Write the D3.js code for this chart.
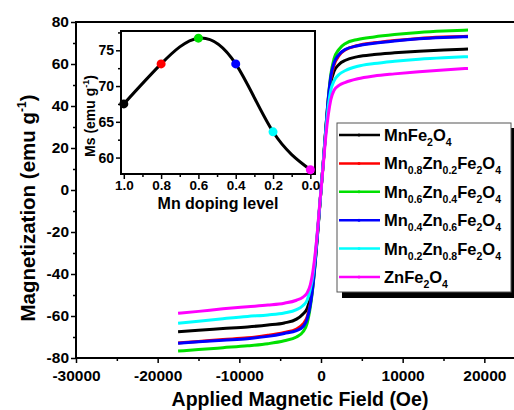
<!DOCTYPE html>
<html>
<head>
<meta charset="utf-8">
<script src="https://cdn.jsdelivr.net/npm/d3@7"></script>
<style>
  body { margin: 0; background: #fff; }
  svg { display: block; font-family: Arial, "Liberation Sans", sans-serif; font-weight: bold; }
</style>
</head>
<body>
<div id="chart"></div>
<script>
// applied field (Oe), shared by all loops
var fieldOe = [-17500, -15000, -12000, -9000, -6500, -4500, -3000, -2200, -1700, -1300, -1000, -700, -400, -100,
               0, 300, 600, 900, 1200, 1600, 2200, 3000, 4500, 6500, 9000, 12000, 15000, 18000];

// magnetization (emu/g)
var mMn10 = [-67.5, -66.8, -66.0, -65.2, -64.3, -63.3, -61.5, -59.0, -56.5, -51.0, -44.0, -33.0, -19.0, -5.0,
             0, 14, 29, 42, 51, 56.5, 59.8, 61.8, 63.5, 64.5, 65.3, 66.1, 66.7, 67.1];
var mMn08 = [-72.8, -72.1, -71.2, -70.4, -69.2, -67.8, -66.2, -63.8, -60.5, -54.0, -45.5, -33.5, -19.5, -5.0,
             0, 14, 29.5, 43.5, 53, 59.5, 64, 66.8, 68.8, 70.1, 71.2, 72.2, 72.8, 73.2];
var mMn06 = [-76.7, -76.0, -75.1, -74.2, -73.2, -71.8, -70.0, -67.5, -63.5, -55.5, -46.5, -34.5, -20.0, -5.0,
             0, 14.5, 30, 44, 55, 62.5, 67, 69.8, 71.7, 72.9, 74, 75, 75.7, 76.2];
var mMn04 = [-73.0, -72.3, -71.5, -70.8, -69.7, -68.3, -67.0, -65.0, -61.5, -54.5, -46.0, -34.0, -20.0, -5.0,
             0, 14.5, 30, 44, 54, 60.5, 64.5, 67, 68.7, 69.9, 71, 72, 72.6, 73];
var mMn02 = [-63.5, -62.5, -61.3, -60.2, -59.5, -58.6, -57.0, -55.0, -52.5, -47.0, -41.0, -31.0, -18.0, -4.5,
             0, 14, 28, 40, 47.5, 52, 55, 56.9, 58.9, 60.2, 61.3, 62.3, 63, 63.5];
var mMn00 = [-58.7, -57.8, -56.6, -55.6, -54.8, -53.9, -52.5, -51.0, -49.0, -45.0, -39.0, -30.0, -18.0, -4.0,
             0, 13, 26, 36, 43, 47.5, 49.8, 51.3, 53, 54.3, 55.3, 56.3, 57.2, 57.9];

var seriesNames = ["MnFe2O4", "Mn0.8Zn0.2Fe2O4", "Mn0.6Zn0.4Fe2O4", "Mn0.4Zn0.6Fe2O4", "Mn0.2Zn0.8Fe2O4", "ZnFe2O4"];
var seriesColors = ["#000000", "#ff0000", "#00e000", "#0000ff", "#00ffff", "#ff00ff"];
var seriesValues = [mMn10, mMn08, mMn06, mMn04, mMn02, mMn00];

// inset: saturation magnetization vs Mn level
var mnLevel = [1.0, 0.8, 0.6, 0.4, 0.2, 0.0];
var msValue = [67.5, 73.1, 76.7, 73.1, 63.6, 58.3];

var xTicks = [-30000, -20000, -10000, 0, 10000, 20000];
var yTicks = [-80, -60, -40, -20, 0, 20, 40, 60, 80];
var insetXTicks = [1.0, 0.8, 0.6, 0.4, 0.2, 0.0];
var insetYTicks = [60, 65, 70, 75];

var W = 514, H = 410;
var svg = d3.select("#chart").append("svg").attr("width", W).attr("height", H);

var x = d3.scaleLinear().domain([-30000, 24000]).range([76, 517]);
var y = d3.scaleLinear().domain([-80, 80]).range([358, 22]);

function styleAxis(g, size) {
  g.selectAll("text").attr("font-size", size).attr("font-weight", "bold").attr("fill", "#000");
  g.selectAll("line").attr("stroke", "#000").attr("stroke-width", 1.5);
  g.select(".domain").remove();
}

// minor ticks
svg.append("g").attr("transform", "translate(0,358)")
  .call(d3.axisBottom(x).tickValues(d3.range(-25000, 24000, 10000)).tickSize(3).tickFormat(""))
  .call(styleAxis, 14);
svg.append("g").attr("transform", "translate(76,0)")
  .call(d3.axisLeft(y).tickValues(d3.range(-70, 80, 20)).tickSize(3).tickFormat(""))
  .call(styleAxis, 14);

// major ticks
svg.append("g").attr("transform", "translate(0,358)")
  .call(d3.axisBottom(x).tickValues(xTicks).tickSize(5).tickPadding(7).tickFormat(function(d){ return String(d); }))
  .call(styleAxis, 15.5);
svg.append("g").attr("transform", "translate(76,0)")
  .call(d3.axisLeft(y).tickValues(yTicks).tickSize(5).tickPadding(2).tickFormat(function(d){ return String(d); }))
  .call(styleAxis, 15.5);

// frame
svg.append("rect").attr("x", 76).attr("y", 22).attr("width", 441).attr("height", 336)
  .attr("fill", "none").attr("stroke", "#000").attr("stroke-width", 2);

// loops
var line = d3.line()
  .x(function(d, i){ return x(fieldOe[i]); })
  .y(function(d){ return y(d); })
  .curve(d3.curveMonotoneX);

svg.append("g").selectAll("path").data(seriesValues).enter().append("path")
  .attr("d", line)
  .attr("fill", "none")
  .attr("stroke", function(d, i){ return seriesColors[i]; })
  .attr("stroke-width", 3);

// axis titles
svg.append("text").attr("x", 300).attr("y", 406).attr("text-anchor", "middle")
  .attr("font-size", 19.5).text("Applied Magnetic Field (Oe)");

var yt = svg.append("text").attr("transform", "translate(35,208) rotate(-90)")
  .attr("text-anchor", "middle").attr("font-size", 20.5);
yt.append("tspan").text("Magnetization (emu g");
yt.append("tspan").attr("font-size", 12).attr("dy", -9).text("-1");
yt.append("tspan").attr("dy", 9).text(")");

// inset
var ix = d3.scaleLinear().domain([1.015, -0.025]).range([121, 315]);
var iy = d3.scaleLinear().domain([57.7, 77.7]).range([174, 31]);
var inset = svg.append("g");

inset.append("rect").attr("x", 121).attr("y", 31).attr("width", 194).attr("height", 143)
  .attr("fill", "#fff").attr("stroke", "#000").attr("stroke-width", 2);

inset.append("g").attr("transform", "translate(0,174)")
  .call(d3.axisBottom(ix).tickValues([0.9, 0.7, 0.5, 0.3, 0.1]).tickSize(3).tickFormat(""))
  .call(styleAxis, 14);
inset.append("g").attr("transform", "translate(121,0)")
  .call(d3.axisLeft(iy).tickValues([62.5, 67.5, 72.5, 77.5]).tickSize(3).tickFormat(""))
  .call(styleAxis, 14);
inset.append("g").attr("transform", "translate(0,174)")
  .call(d3.axisBottom(ix).tickValues(insetXTicks).tickSize(5).tickPadding(1).tickFormat(d3.format(".1f")))
  .call(styleAxis, 13.5);
inset.append("g").attr("transform", "translate(121,0)")
  .call(d3.axisLeft(iy).tickValues(insetYTicks).tickSize(5).tickPadding(2).tickFormat(d3.format("d")))
  .call(styleAxis, 14);

var iline = d3.line()
  .x(function(d, i){ return ix(mnLevel[i]); })
  .y(function(d){ return iy(d); })
  .curve(d3.curveNatural);
inset.append("path").datum(msValue).attr("d", iline)
  .attr("fill", "none").attr("stroke", "#000").attr("stroke-width", 3);

inset.selectAll("circle").data(msValue).enter().append("circle")
  .attr("cx", function(d, i){ return ix(mnLevel[i]); })
  .attr("cy", function(d){ return iy(d); })
  .attr("r", 4.5)
  .attr("fill", function(d, i){ return seriesColors[i]; });

inset.append("text").attr("x", 218).attr("y", 209).attr("text-anchor", "middle")
  .attr("font-size", 16).text("Mn doping level");

var it = inset.append("text").attr("transform", "translate(95,116) rotate(-90)")
  .attr("text-anchor", "middle").attr("font-size", 14);
it.append("tspan").text("Ms (emu g");
it.append("tspan").attr("font-size", 9).attr("dy", -6).text("-1");
it.append("tspan").attr("dy", 6).text(")");

// legend
var lg = svg.append("g");
lg.append("rect").attr("x", 342).attr("y", 128).attr("width", 176).attr("height", 170).attr("fill", "#000");
lg.append("rect").attr("x", 337).attr("y", 123).attr("width", 174).attr("height", 169)
  .attr("fill", "#fff").attr("stroke", "#555").attr("stroke-width", 1);

// split names into normal text and subscripts (digits after letters)
function parts(name) {
  var out = [], re = /([A-Za-z]+)([0-9.]*)/g, m;
  while ((m = re.exec(name)) !== null) {
    out.push({t: m[1], sub: false});
    if (m[2]) out.push({t: m[2], sub: true});
  }
  return out;
}

var rows = lg.selectAll("g.row").data(seriesNames).enter().append("g")
  .attr("transform", function(d, i){ return "translate(0," + (135 + i * 28.4) + ")"; });
rows.append("line").attr("x1", 339).attr("x2", 380).attr("y1", 0).attr("y2", 0)
  .attr("stroke", function(d, i){ return seriesColors[i]; }).attr("stroke-width", 2.5);
rows.append("circle").attr("cx", 359).attr("cy", 0).attr("r", 1.5)
  .attr("fill", function(d, i){ return seriesColors[i]; });
rows.append("text").attr("x", 384).attr("y", 6)
  .each(function(d){
    var t = d3.select(this), prevSub = false;
    parts(d).forEach(function(p){
      t.append("tspan").attr("font-size", p.sub ? 10.5 : 16.5)
        .attr("dy", p.sub ? 5 : (prevSub ? -5 : 0)).text(p.t);
      prevSub = p.sub;
    });
  });
</script>
</body>
</html>
